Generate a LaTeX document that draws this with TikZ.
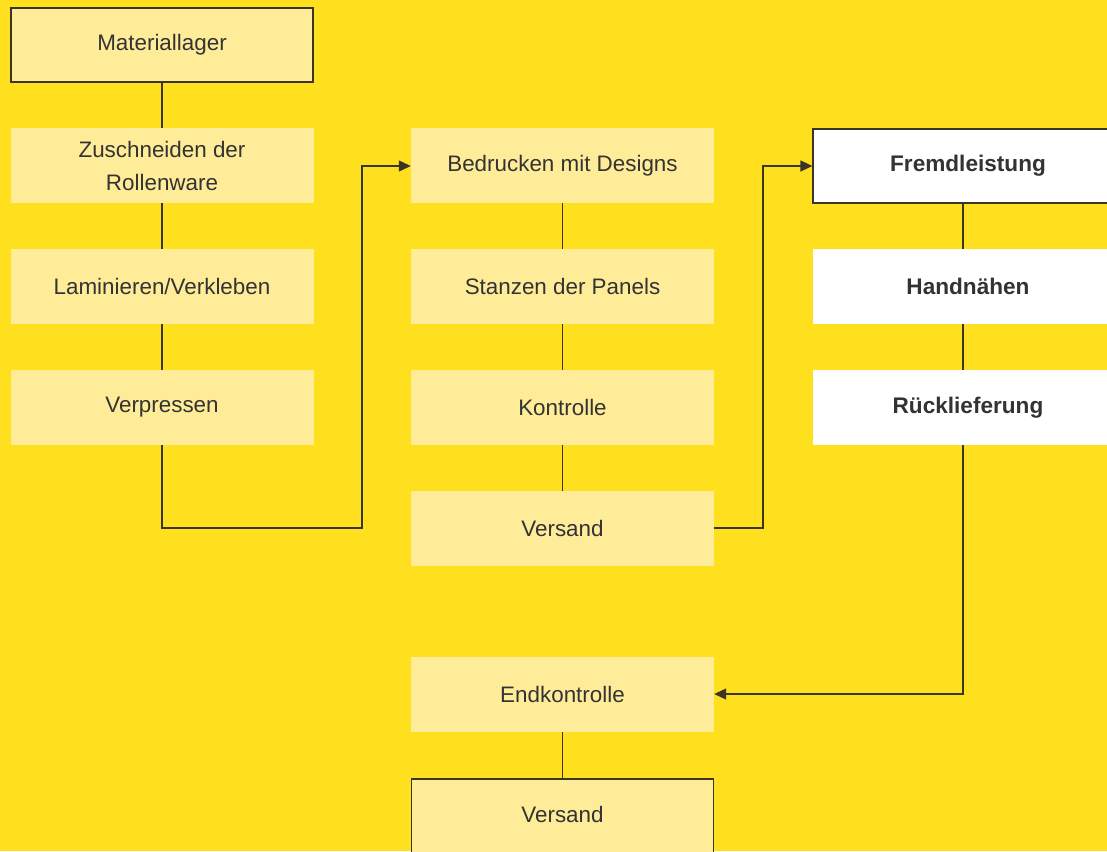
\documentclass[tikz,border=0pt]{standalone}
\usepackage{fontspec}
\setmainfont{Liberation Sans}
\usetikzlibrary{arrows.meta}
\definecolor{bg}{HTML}{FFE01F}
\definecolor{lightbox}{HTML}{FFEC99}
\definecolor{ink}{HTML}{333333}
\definecolor{linec}{HTML}{3A3525}
\begin{document}
\begin{tikzpicture}[x=1pt,y=-1pt,
  box/.style={fill=lightbox,minimum width=303pt,minimum height=75pt,inner sep=0pt,
    text=ink,font=\fontsize{22.4}{33}\selectfont,align=center},
  framed/.style={draw=linec,line width=1.2pt},
  wbox/.style={fill=white,minimum width=303pt,minimum height=75pt,inner sep=0pt,
    text=ink,font=\fontsize{22.6}{33}\selectfont\bfseries,align=center},
  conn/.style={draw=linec,line width=1.2pt},
  arr/.style={conn,-{Triangle[length=12pt,width=11pt]}}]
\fill[bg] (0,0) rectangle (1107,851);
\useasboundingbox (0,0) rectangle (1107,851);
\begin{scope}
\clip (0,0) rectangle (1107,851);
% column 1
\node[box,framed,minimum width=302pt,minimum height=74pt] (m) at (162,45) {Materiallager};
\node[box] (z) at (162,165.5) {Zuschneiden der\\Rollenware};
\node[box] (l) at (162,286.5) {Laminieren/Verkleben};
\node[box] (v) at (162,407.5) {Verpressen};
% column 2
\node[box] (b) at (562.5,165.5) {Bedrucken mit Designs};
\node[box] (s) at (562.5,286.5) {Stanzen der Panels};
\node[box] (k) at (562.5,407.5) {Kontrolle};
\node[box] (ve) at (562.5,528.5) {Versand};
\node[box] (e) at (562.5,694.5) {Endkontrolle};
\node[box,framed,minimum width=302pt,minimum height=80pt] (vf) at (562.5,819) {};
\node[text=ink,font=\fontsize{22.4}{24}\selectfont] (vft) at (562.5,814) {Versand};
% column 3
\node[wbox,framed,minimum width=310pt,minimum height=74pt] (f) at (968,166) {Fremdleistung};
\node[wbox,minimum width=310pt] (h) at (968,286.5) {Handnähen};
\node[wbox,minimum width=310pt] (r) at (968,407.5) {Rücklieferung};
\end{scope}
% connectors
\draw[conn] (m.south -| 162,0) -- (z.north -| 162,0);
\draw[conn] (z.south -| 162,0) -- (l.north -| 162,0);
\draw[conn] (l.south -| 162,0) -- (v.north -| 162,0);
\draw[conn] (b.south) -- (s.north);
\draw[conn] (s.south) -- (k.north);
\draw[conn] (k.south) -- (ve.north);
\draw[conn] (e.south) -- (vf.north);
\draw[conn] (f.south -| 963,0) -- (h.north -| 963,0);
\draw[conn] (h.south -| 963,0) -- (r.north -| 963,0);
\coordinate (c1) at (162,528);
\coordinate (c2) at (362,528);
\coordinate (c3) at (362,166);
\draw[arr] (v.south) -- (c1) -- (c2) -- (c3) -- (b.west |- c3);
\coordinate (d1) at (763,528);
\coordinate (d2) at (763,166);
\draw[arr] (ve.east |- d1) -- (d1) -- (d2) -- (f.west |- d2);
\coordinate (g1) at (963,694);
\draw[arr] (r.south -| g1) -- (g1) -- (e.east |- g1);
\end{tikzpicture}
\end{document}
